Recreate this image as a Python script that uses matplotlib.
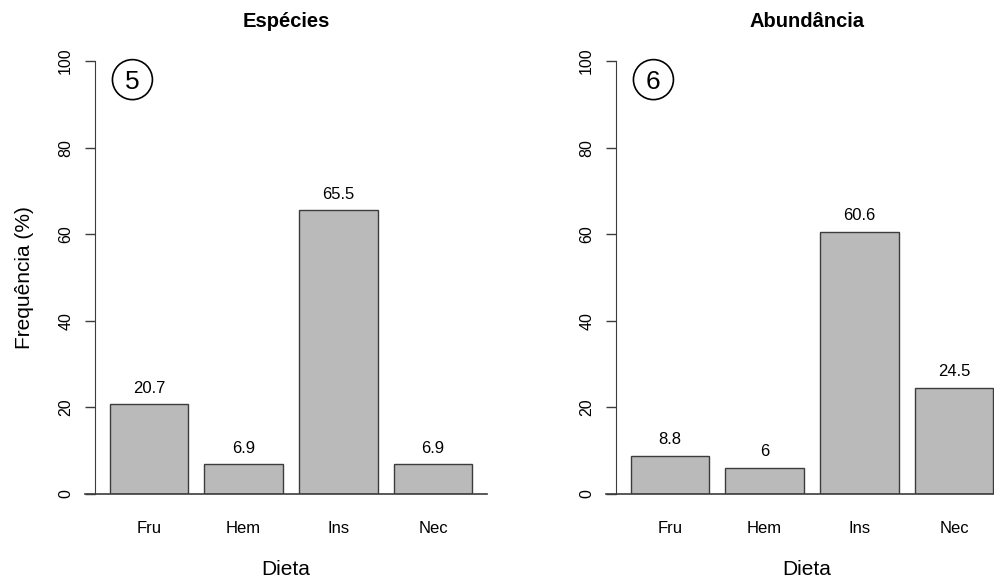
import matplotlib
matplotlib.use('Agg')
import matplotlib.pyplot as plt
from matplotlib.patches import Ellipse

plt.rcParams['font.family'] = ['Liberation Sans', 'DejaVu Sans']

categories = ['Fru', 'Hem', 'Ins', 'Nec']
especies = [20.7, 6.9, 65.5, 6.9]
abundancia = [8.8, 6, 60.6, 24.5]
titles = ['Espécies', 'Abundância']
panel_tags = ['5', '6']
y_ticks = [0, 20, 40, 60, 80, 100]

bar_color = '#bababa'
line_color = '#3c3c3c'

fig = plt.figure(figsize=(9.95, 5.77), dpi=100)

# axes boxes in figure fractions (the right panel runs past the edge, like the original crop)
boxes = [[85 / 995, 83 / 577, 402 / 995, 433 / 577],
         [606 / 995, 83 / 577, 402 / 995, 433 / 577]]

# R barplot style positions: width 1, space 0.2
x = [0.7 + 1.2 * i for i in range(len(categories))]

for i, values in enumerate([especies, abundancia]):
    ax = fig.add_axes(boxes[i])
    ax.bar(x, values, width=1.0, color=bar_color, edgecolor=line_color, linewidth=1.0)
    ax.set_xlim(-0.111, 4.984)
    ax.set_ylim(0, 100)

    for side in ['top', 'right', 'bottom']:
        ax.spines[side].set_visible(False)
    ax.spines['left'].set_position(('data', 0.016))
    ax.spines['left'].set_bounds(0, 100)
    ax.spines['left'].set_color(line_color)
    ax.axhline(0, color=line_color, linewidth=1.2, clip_on=False)

    ax.set_yticks(y_ticks)
    ax.set_yticklabels([str(t) for t in y_ticks], rotation=90, va='center')
    ax.tick_params(axis='y', length=7.2, width=1, color=line_color, pad=8.5, labelsize=11.5)

    ax.set_xticks(x)
    ax.set_xticklabels(categories)
    ax.tick_params(axis='x', length=0, pad=19.5, labelsize=12)

    ax.set_xlabel('Dieta', fontsize=15, labelpad=17)
    if i == 0:
        ax.set_ylabel('Frequência (%)', fontsize=15, labelpad=17.5)
    ax.set_title(titles[i], fontsize=14.5, fontweight='bold', pad=24.5)

    for xi, v in zip(x, values):
        ax.text(xi, v + 3.7, '{:g}'.format(v), ha='center', va='center', fontsize=12)

    # circled panel number
    ax.add_patch(Ellipse((0.118, 0.957), 40 / 402, 40 / 433, transform=ax.transAxes,
                         fill=False, linewidth=1.2, edgecolor='black', clip_on=False))
    ax.text(0.118, 0.957, panel_tags[i], transform=ax.transAxes, ha='center',
            va='center_baseline', fontsize=19)

fig.savefig('out.png', dpi=100)
